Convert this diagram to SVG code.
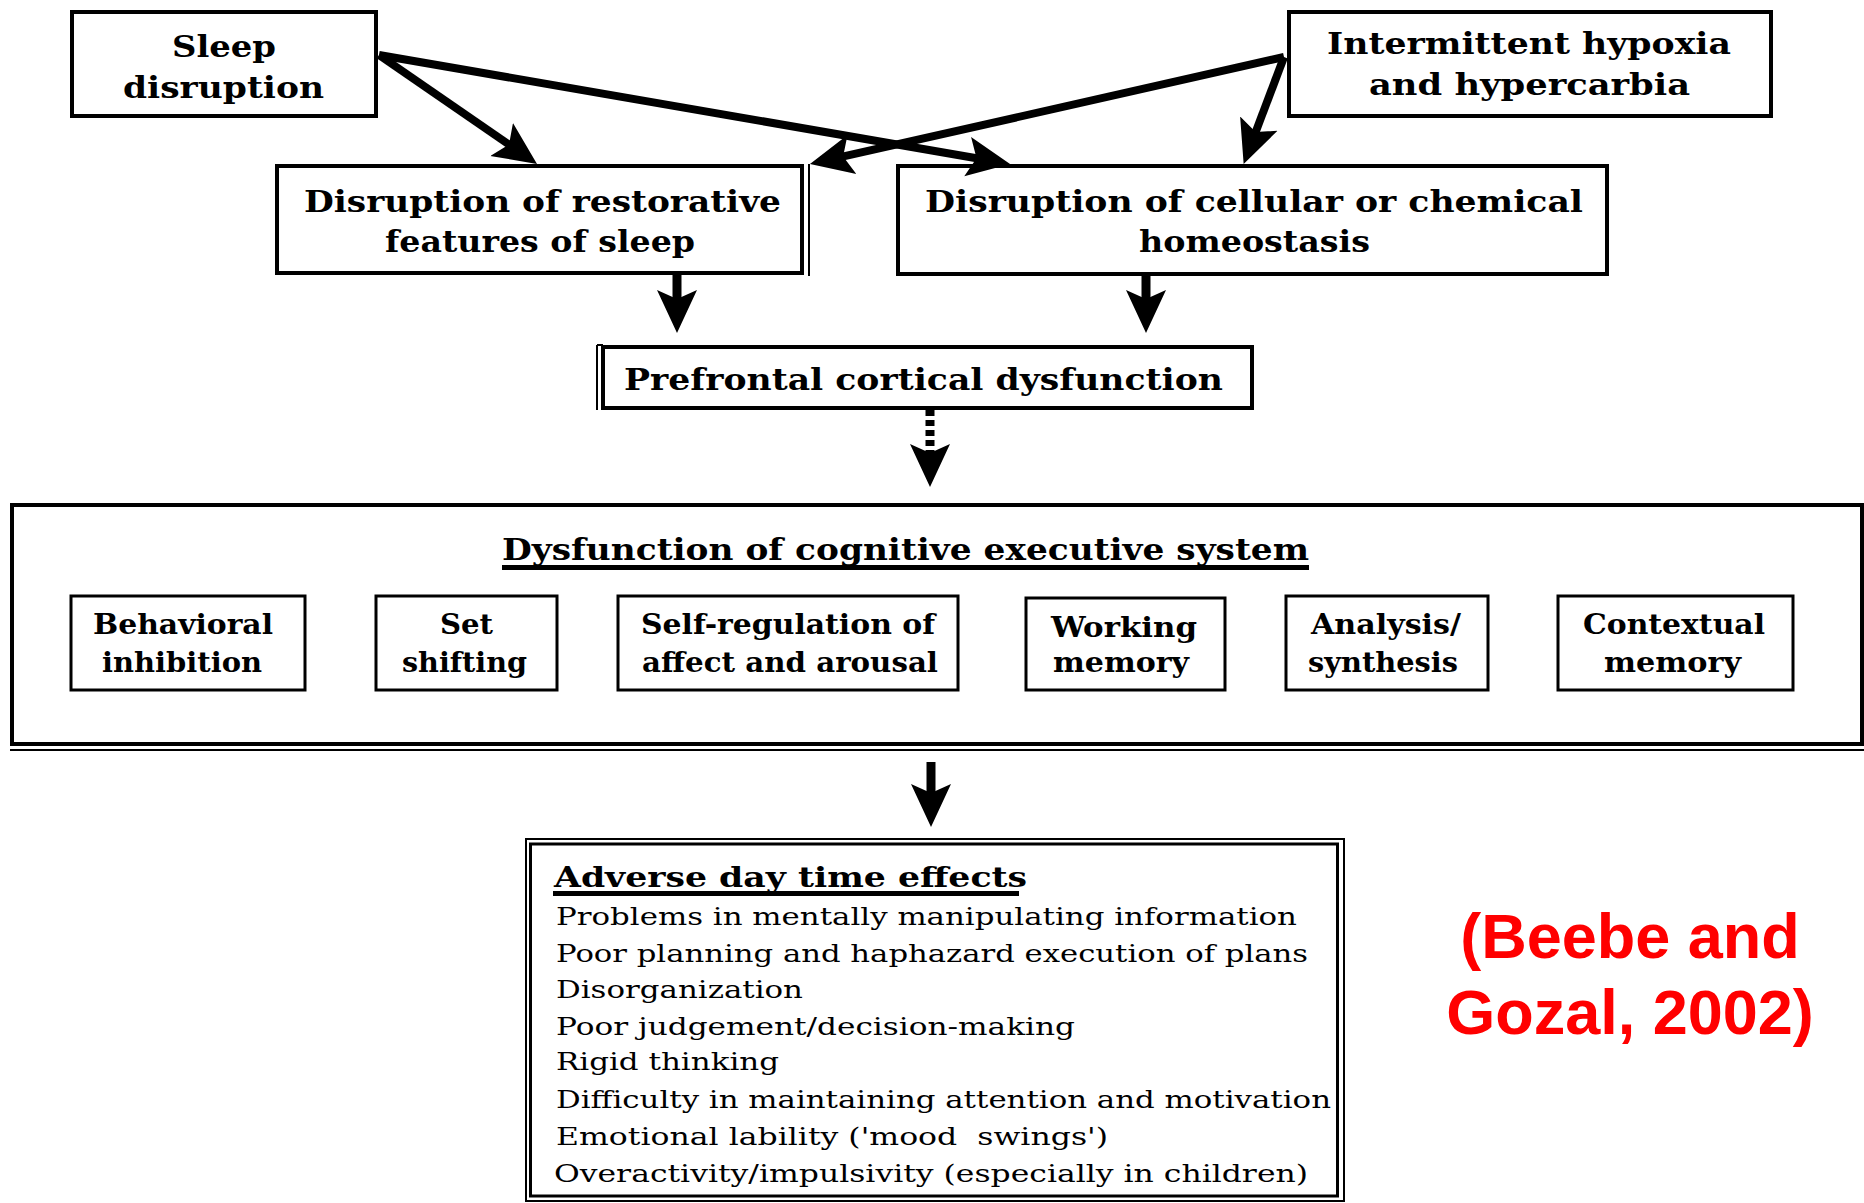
<svg xmlns="http://www.w3.org/2000/svg" width="1864" height="1203" viewBox="0 0 1864 1203">
<style>
.box{fill:none;stroke:#000;stroke-width:4}
.sub{fill:none;stroke:#000;stroke-width:3}
.thin{fill:none;stroke:#000;stroke-width:2}
.lb{font-family:"DejaVu Serif","Liberation Serif",serif;font-weight:bold;font-size:30px;fill:#000}
.sl{font-family:"DejaVu Serif","Liberation Serif",serif;font-weight:bold;font-size:28px;fill:#000}
.tx{font-family:"DejaVu Serif","Liberation Serif",serif;font-size:25px;fill:#000}
.red{font-family:"Liberation Sans",Arial,sans-serif;font-weight:bold;font-size:63px;fill:#FF0000;text-anchor:middle}
.ar{fill:none;stroke:#000;stroke-width:8;marker-end:url(#ah)}
.av{fill:none;stroke:#000;stroke-width:9;marker-end:url(#ah)}
</style>
<defs>
<marker id="ah" markerUnits="userSpaceOnUse" markerWidth="46" markerHeight="44" viewBox="0 -22 46 44" refX="12" refY="0" orient="auto">
<path d="M0,-20 L43,0 L0,20 L9,0 Z" fill="#000"/>
</marker>
</defs>
<rect width="1864" height="1203" fill="#fff"/>

<g id="sleep-disruption">
<rect class="box" x="72" y="12" width="304" height="104"/>
<text class="lb" x="172" y="57" textLength="104" lengthAdjust="spacingAndGlyphs">Sleep</text>
<text class="lb" x="123" y="98" textLength="201" lengthAdjust="spacingAndGlyphs">disruption</text>
</g>

<g id="intermittent-hypoxia">
<rect class="box" x="1289" y="12" width="482" height="104"/>
<text class="lb" x="1327" y="54" textLength="404" lengthAdjust="spacingAndGlyphs">Intermittent hypoxia</text>
<text class="lb" x="1369" y="95" textLength="321" lengthAdjust="spacingAndGlyphs">and hypercarbia</text>
</g>

<g id="restorative">
<rect class="box" x="277" y="166" width="525" height="107"/>
<line class="thin" x1="809" y1="164" x2="809" y2="276"/>
<text class="lb" x="304" y="212" textLength="477" lengthAdjust="spacingAndGlyphs">Disruption of restorative</text>
<text class="lb" x="385" y="252" textLength="310" lengthAdjust="spacingAndGlyphs">features of sleep</text>
</g>

<g id="homeostasis">
<rect class="box" x="898" y="166" width="709" height="108"/>
<text class="lb" x="925" y="212" textLength="658" lengthAdjust="spacingAndGlyphs">Disruption of cellular or chemical</text>
<text class="lb" x="1139" y="252" textLength="231" lengthAdjust="spacingAndGlyphs">homeostasis</text>
</g>

<g id="prefrontal">
<rect class="box" x="603" y="347" width="649" height="61"/>
<line class="thin" x1="597" y1="345" x2="597" y2="410"/>
<line class="thin" x1="597" y1="345" x2="603" y2="345"/>
<text class="lb" x="624" y="390" textLength="599" lengthAdjust="spacingAndGlyphs">Prefrontal cortical dysfunction</text>
</g>

<g id="executive-system">
<rect class="box" x="12" y="505" width="1850" height="239"/>
<line class="thin" x1="10" y1="750" x2="1864" y2="750"/>
<text class="lb" x="502" y="560" textLength="807" lengthAdjust="spacingAndGlyphs">Dysfunction of cognitive executive system</text>
<rect x="502" y="565" width="807" height="5" fill="#000"/>
</g>

<g id="behavioral-inhibition">
<rect class="sub" x="71" y="596" width="234" height="94"/>
<text class="sl" x="93" y="634" textLength="180" lengthAdjust="spacingAndGlyphs">Behavioral</text>
<text class="sl" x="102" y="672" textLength="160" lengthAdjust="spacingAndGlyphs">inhibition</text>
</g>

<g id="set-shifting">
<rect class="sub" x="376" y="596" width="181" height="94"/>
<text class="sl" x="440" y="634" textLength="53" lengthAdjust="spacingAndGlyphs">Set</text>
<text class="sl" x="402" y="672" textLength="125" lengthAdjust="spacingAndGlyphs">shifting</text>
</g>

<g id="self-regulation">
<rect class="sub" x="618" y="596" width="340" height="94"/>
<text class="sl" x="641" y="634" textLength="294" lengthAdjust="spacingAndGlyphs">Self-regulation of</text>
<text class="sl" x="642" y="672" textLength="296" lengthAdjust="spacingAndGlyphs">affect and arousal</text>
</g>

<g id="working-memory">
<rect class="sub" x="1026" y="598" width="199" height="92"/>
<text class="sl" x="1051" y="637" textLength="146" lengthAdjust="spacingAndGlyphs">Working</text>
<text class="sl" x="1053" y="672" textLength="136" lengthAdjust="spacingAndGlyphs">memory</text>
</g>

<g id="analysis-synthesis">
<rect class="sub" x="1286" y="596" width="202" height="94"/>
<text class="sl" x="1311" y="634" textLength="150" lengthAdjust="spacingAndGlyphs">Analysis/</text>
<text class="sl" x="1308" y="672" textLength="150" lengthAdjust="spacingAndGlyphs">synthesis</text>
</g>

<g id="contextual-memory">
<rect class="sub" x="1558" y="596" width="235" height="94"/>
<text class="sl" x="1583" y="634" textLength="182" lengthAdjust="spacingAndGlyphs">Contextual</text>
<text class="sl" x="1604" y="672" textLength="137" lengthAdjust="spacingAndGlyphs">memory</text>
</g>

<g id="adverse-effects">
<rect class="thin" x="526" y="839" width="818" height="362"/>
<rect class="sub" x="530.5" y="844" width="807" height="352"/>
<text class="sl" x="554" y="887" textLength="473" lengthAdjust="spacingAndGlyphs">Adverse day time effects</text>
<rect x="553" y="891" width="466" height="5" fill="#000"/>
<text class="tx" x="556" y="925" textLength="741" lengthAdjust="spacingAndGlyphs">Problems in mentally manipulating information</text>
<text class="tx" x="556" y="962" textLength="752" lengthAdjust="spacingAndGlyphs">Poor planning and haphazard execution of plans</text>
<text class="tx" x="556" y="998" textLength="247" lengthAdjust="spacingAndGlyphs">Disorganization</text>
<text class="tx" x="556" y="1035" textLength="519" lengthAdjust="spacingAndGlyphs">Poor judgement/decision-making</text>
<text class="tx" x="556" y="1070" textLength="223" lengthAdjust="spacingAndGlyphs">Rigid thinking</text>
<text class="tx" x="556" y="1108" textLength="775" lengthAdjust="spacingAndGlyphs">Difficulty in maintaining attention and motivation</text>
<text class="tx" x="556" y="1145" textLength="552" lengthAdjust="spacingAndGlyphs" xml:space="preserve">Emotional lability ('mood  swings')</text>
<text class="tx" x="554" y="1182" textLength="754" lengthAdjust="spacingAndGlyphs">Overactivity/impulsivity (especially in children)</text>
</g>

<g id="citation">
<text class="red" x="1630" y="958">(Beebe and</text>
<text class="red" x="1630" y="1034">Gozal, 2002)</text>
</g>

<g id="connectors">
<line class="ar" x1="379" y1="55" x2="511.5" y2="146.3"/>
<line class="ar" x1="379" y1="55" x2="979.5" y2="158.7"/>
<line class="ar" x1="1284" y1="57" x2="840.2" y2="157.2"/>
<line class="ar" x1="1284" y1="57" x2="1254.6" y2="134.9"/>
<line class="av" x1="677" y1="275" x2="677" y2="302"/>
<line class="av" x1="1146" y1="276" x2="1146" y2="302"/>
<line class="av" x1="930" y1="410" x2="930" y2="456" stroke-width="6" stroke-dasharray="6 4"/>
<line class="av" x1="931" y1="762" x2="931" y2="796"/>
</g>
</svg>
